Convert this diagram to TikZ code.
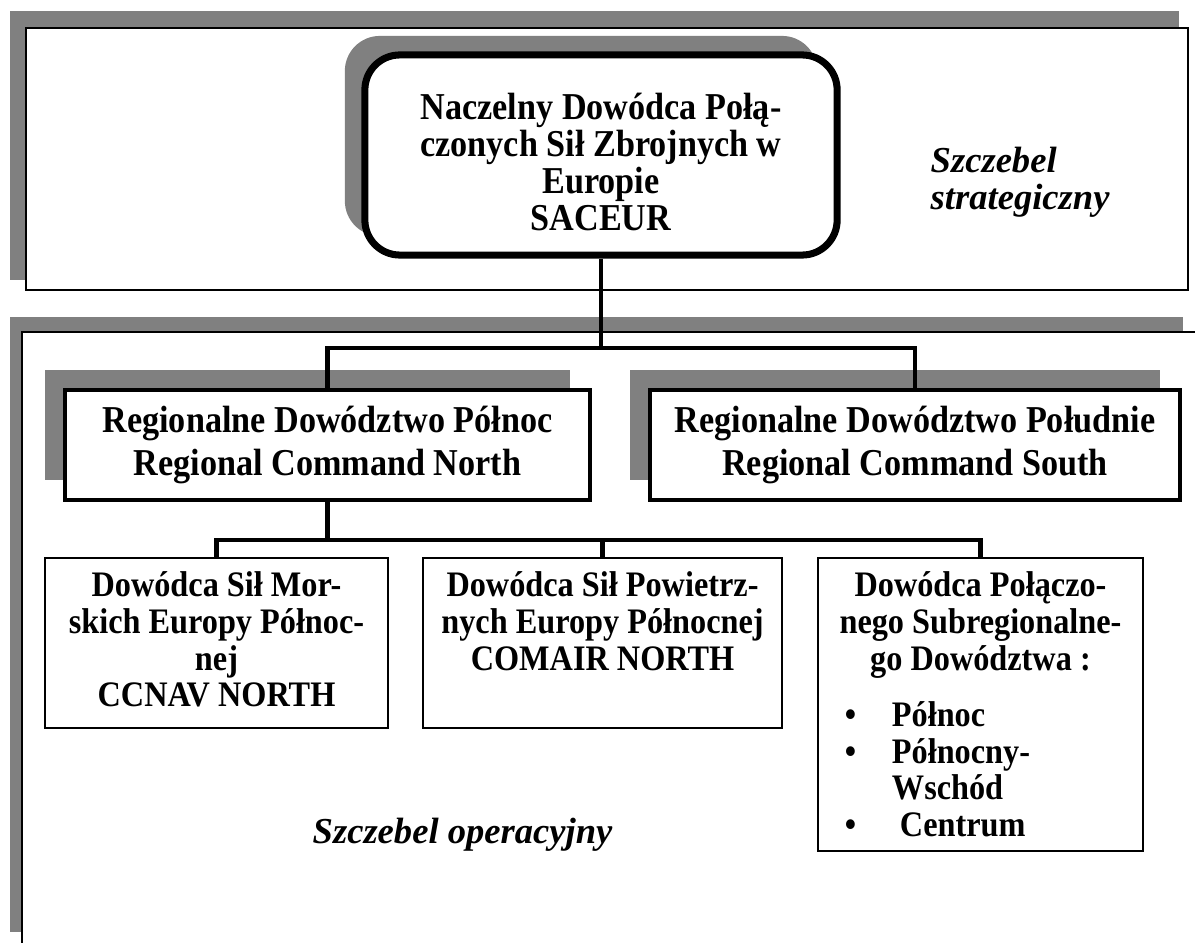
\documentclass[tikz,border=0pt]{standalone}
\usepackage{fontspec}
\setmainfont{Liberation Serif}
\newfontfamily\tallfont[FakeStretch=0.9]{Liberation Serif}
\usetikzlibrary{shadows}

\begin{document}
\begin{tikzpicture}[
  x=0.01cm, y=-0.01cm,
  shade/.style={fill=black!50},
  frame/.style={draw, line width=0.6pt},
  chief/.style={rectangle, draw, fill=white, rounded corners=0.35cm, line width=2pt, inner sep=0pt,
    font=\tallfont\bfseries\fontsize{10.8}{10.5}\selectfont,
    drop shadow={shadow xshift=-0.2cm, shadow yshift=0.19cm, fill=black!50, opacity=1}},
  region/.style={rectangle, draw, fill=white, line width=1.2pt, minimum height=1.1cm, align=center,
    font=\tallfont\bfseries\fontsize{10.8}{12}\selectfont,
    drop shadow={shadow xshift=-0.2cm, shadow yshift=0.2cm, fill=black!50, opacity=1}},
  unit/.style={rectangle, draw, fill=white, line width=0.6pt, inner sep=0pt, anchor=north,
    font=\tallfont\bfseries\fontsize{10.2}{10.4}\selectfont},
  link/.style={line width=1.2pt},
  level/.style={inner sep=0pt, align=left, font=\bfseries\itshape\fontsize{10.4}{10.5}\selectfont}
]
\useasboundingbox (0,0) rectangle (1195,943);

\fill[shade] (10,11) rectangle (1179,280);
\filldraw[frame, fill=white] (26,28) rectangle (1188,290);
\fill[shade] (10,317) rectangle (1183,932);
\fill[white] (22,332) rectangle (1195,943);
\draw[frame] (1195,332) -- (22,332) -- (22,943);

\node[chief] (saceur) at (601,155) {\parbox[c][2cm][t]{4.72cm}{\centering\vspace*{0.38cm}Naczelny Dowódca Połą-\\czonych Sił Zbrojnych w\\Europie\\SACEUR}};

\node[region, minimum width=5.25cm] (north) at (327.5,445) {Regionalne Dowództwo Północ\\Regional Command North};
\node[region, minimum width=5.30cm] (south) at (915,445) {Regionalne Dowództwo Południe\\Regional Command South};

\node[unit] (navy) at (216.5,557) {\parbox[c][1.7cm][t]{3.43cm}{\centering\vspace*{0.14cm}Dowódca Sił Mor-\\skich Europy Północ-\\nej\\CCNAV NORTH}};
\node[unit] (air) at (602.5,557) {\parbox[c][1.7cm][t]{3.59cm}{\centering\vspace*{0.14cm}Dowódca Sił Powietrz-\\nych Europy Północnej\\COMAIR NORTH}};
\node[unit] (joint) at (980.5,557) {\parbox[c][2.93cm][t]{3.25cm}{\centering\vspace*{0.14cm}Dowódca Połączo-\\nego Subregionalne-\\go Dowództwa :\par
  \vspace{0.2cm}\raggedright
  \hspace*{0.27cm}\makebox[0.47cm][l]{\textbullet}Północ\\
  \hspace*{0.27cm}\makebox[0.47cm][l]{\textbullet}Północny-\\
  \hspace*{0.74cm}Wschód\\
  \hspace*{0.27cm}\makebox[0.55cm][l]{\textbullet}Centrum}};

\node[level, anchor=north west] (strat) at (930,146) {Szczebel\\strategiczny};
\node[level, anchor=base west] (oper) at (312,843) {Szczebel operacyjny};

\coordinate (hub) at (601,348);
\draw[link] (saceur.south) -- (hub);
\draw[link] (north.north) |- (hub) -| (south.north);
\coordinate (fork) at (330,540);
\draw[link] (north.south) -- (north.south |- fork);
\draw[link] (navy.north) |- (fork) -| (joint.north);
\draw[link] (air.north) -- (air.north |- fork);
\end{tikzpicture}
\end{document}
